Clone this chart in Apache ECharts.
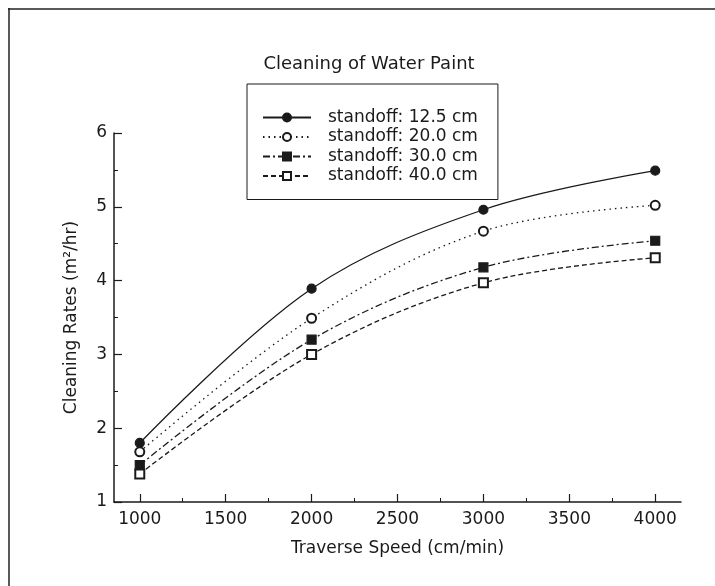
<!DOCTYPE html>
<html>
<head>
<meta charset="utf-8">
<title>Cleaning of Water Paint</title>
<script src="https://cdn.jsdelivr.net/npm/echarts@6/dist/echarts.min.js"></script>
<style>
  html, body { margin: 0; padding: 0; background: #fff; }
  #chart { width: 715px; height: 586px; }
</style>
</head>
<body>
<div id="chart"></div>
<script>
// Traverse speed (cm/min) and cleaning rate (m²/hr) for each standoff distance
const speeds = [1000, 2000, 3000, 4000];
const seriesNames = ['standoff: 12.5 cm', 'standoff: 20.0 cm', 'standoff: 30.0 cm', 'standoff: 40.0 cm'];
const rate125 = [1.80, 3.89, 4.96, 5.49];
const rate200 = [1.68, 3.49, 4.67, 5.02];
const rate300 = [1.50, 3.20, 4.18, 4.54];
const rate400 = [1.38, 3.00, 3.97, 4.31];
const xMajorTicks = [1000, 1500, 2000, 2500, 3000, 3500, 4000];
const xMinorTicks = [1250, 1750, 2250, 2750, 3250, 3750];

const FONT = 'DejaVu Sans';
const INK = '#1a1a1a';

function pairs(values) {
  return speeds.map((s, i) => [s, values[i]]);
}

function makeSeries(name, values, symbol, dash) {
  return {
    name: name,
    type: 'line',
    data: pairs(values),
    smooth: 0.35,
    symbol: symbol,
    symbolSize: 9,
    showSymbol: true,
    lineStyle: { color: INK, width: 1.3, type: dash },
    itemStyle: { color: INK, borderColor: INK, borderWidth: 1.2 },
    emphasis: { disabled: true },
    animation: false
  };
}

const chart = echarts.init(document.getElementById('chart'), null, { renderer: 'canvas' });

chart.setOption({
  backgroundColor: '#fff',
  animation: false,
  title: {
    text: 'Cleaning of Water Paint',
    left: 364,
    top: 50,
    textAlign: 'center',
    textStyle: { fontFamily: FONT, fontSize: 18, fontWeight: 'normal', color: INK }
  },
  legend: {
    orient: 'vertical',
    left: 247,
    top: 84,
    data: seriesNames,
    borderColor: INK,
    borderWidth: 1,
    padding: [25, 20, 15, 15],
    itemWidth: 48,
    itemHeight: 10,
    itemGap: 2.5,
    selectedMode: false,
    textStyle: { fontFamily: FONT, fontSize: 17, color: INK, lineHeight: 17, padding: [0, 0, 0, 12] }
  },
  grid: { left: 114, right: 34, top: 133, bottom: 84 },
  xAxis: [
    {
      type: 'value',
      min: 850,
      max: 4150,
      name: 'Traverse Speed (cm/min)',
      nameLocation: 'middle',
      nameGap: 38,
      nameTextStyle: { fontFamily: FONT, fontSize: 17, color: INK },
      axisLine: { lineStyle: { color: INK, width: 1.5 } },
      axisTick: { show: true, inside: true, length: 8, customValues: xMajorTicks, lineStyle: { color: INK, width: 1.2 } },
      axisLabel: {
        customValues: xMajorTicks,
        formatter: (v) => String(v),
        fontFamily: FONT, fontSize: 17, color: INK, margin: 9
      },
      splitLine: { show: false }
    },
    {
      type: 'value',
      min: 850,
      max: 4150,
      position: 'bottom',
      axisLine: { show: false },
      axisTick: { show: true, inside: true, length: 4, customValues: xMinorTicks, lineStyle: { color: INK, width: 1 } },
      axisLabel: { show: false },
      splitLine: { show: false }
    }
  ],
  yAxis: {
    type: 'value',
    min: 1,
    max: 6,
    interval: 1,
    name: 'Cleaning Rates (m²/hr)',
    nameLocation: 'middle',
    nameGap: 34,
    nameTextStyle: { fontFamily: FONT, fontSize: 17, color: INK },
    axisLine: { show: true, lineStyle: { color: INK, width: 1.5 } },
    axisTick: { show: true, inside: true, length: 8, lineStyle: { color: INK, width: 1.2 } },
    minorTick: { show: true, splitNumber: 2, length: 4, lineStyle: { color: INK, width: 1 } },
    axisLabel: { fontFamily: FONT, fontSize: 17, color: INK, margin: 7 },
    splitLine: { show: false }
  },
  series: [
    makeSeries(seriesNames[0], rate125, 'circle', 'solid'),
    makeSeries(seriesNames[1], rate200, 'emptyCircle', [1.5, 4]),
    makeSeries(seriesNames[2], rate300, 'rect', [7, 3, 2, 3]),
    makeSeries(seriesNames[3], rate400, 'emptyRect', [5, 3])
  ],
  graphic: [
    // page frame along the top and left edges
    { type: 'line', shape: { x1: 8, y1: 9, x2: 715, y2: 9 }, style: { stroke: '#222', lineWidth: 1.5 }, silent: true },
    { type: 'line', shape: { x1: 9, y1: 8, x2: 9, y2: 586 }, style: { stroke: '#222', lineWidth: 1.5 }, silent: true }
  ]
});
</script>
</body>
</html>
